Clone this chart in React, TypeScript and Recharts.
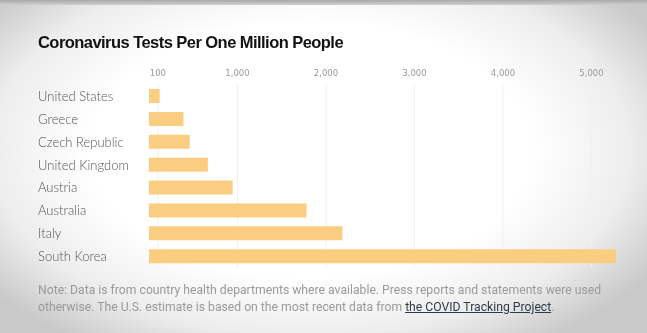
import { BarChart, Bar, XAxis, YAxis, CartesianGrid } from 'recharts';

const countries = [
  'United States', 'Greece', 'Czech Republic', 'United Kingdom',
  'Austria', 'Australia', 'Italy', 'South Korea',
];
const testsPerMillion = [120, 390, 460, 665, 945, 1780, 2185, 5275];
const xTicks = [100, 1000, 2000, 3000, 4000, 5000];

const data = countries.map((name, i) => ({ name, tests: testsPerMillion[i] }));

const CountryTick = ({ y, payload }: any) => (
  <text x={38} y={y} dy={4.5} textAnchor="start" fontSize={13} fontWeight={300}
    fontFamily="Lato, 'Open Sans', sans-serif" fill="#555">
    {payload.value}
  </text>
);

const ValueTick = ({ x, payload }: any) => (
  <text x={x} y={76} textAnchor="middle" fontSize={8.5}
    fontFamily="'DejaVu Sans', sans-serif" fill="#9a9a9a">
    {payload.value.toLocaleString('en-US')}
  </text>
);

export default function App() {
  return (
    <div style={{
      position: 'fixed', left: 0, top: 0, width: 647, height: 333, overflow: 'hidden',
      background: 'radial-gradient(ellipse 62% 70% at 48% 45%, #ffffff 55%, #ededed 80%, #c9c9c9 100%)',
    }}>
      <div style={{ position: 'absolute', left: 0, top: 0, width: 647, height: 5, background: 'linear-gradient(#a9a9a9, #cfcfcf)' }} />
      <div style={{
        position: 'absolute', left: 38, top: 33,
        fontFamily: "'Liberation Sans', Arial, sans-serif",
        fontWeight: 700, fontSize: 16.5, color: '#121212', letterSpacing: -0.55,
      }}>
        Coronavirus Tests Per One Million People
      </div>
      <div style={{ position: 'absolute', left: 0, top: 0 }}>
        <BarChart width={647} height={333} data={data} layout="vertical"
          margin={{ top: 60, right: 29, bottom: 65, left: 38 }} barSize={14}>
          <CartesianGrid horizontal={false} stroke="#f1f1f1" verticalValues={xTicks} />
          <XAxis type="number" orientation="top" domain={[0, 5300]} ticks={xTicks}
            height={25} axisLine={false} tickLine={false} tick={<ValueTick />} />
          <YAxis type="category" dataKey="name" width={111} axisLine={false}
            tickLine={false} interval={0} tick={<CountryTick />} />
          <Bar dataKey="tests" fill="#fbcd80" isAnimationActive={false} />
        </BarChart>
      </div>
      <div style={{
        position: 'absolute', left: 38, top: 282, width: 600, whiteSpace: 'nowrap',
        fontFamily: "Roboto, 'Noto Sans', sans-serif", fontSize: 12.2, lineHeight: '17px',
        color: '#9a9a9a',
      }}>
        Note: Data is from country health departments where available. Press reports and statements were used
        <br />
        otherwise. The U.S. estimate is based on the most recent data from{' '}
        <span style={{ color: '#2f3a4a', textDecoration: 'underline' }}>the COVID Tracking Project</span>.
      </div>
    </div>
  );
}
